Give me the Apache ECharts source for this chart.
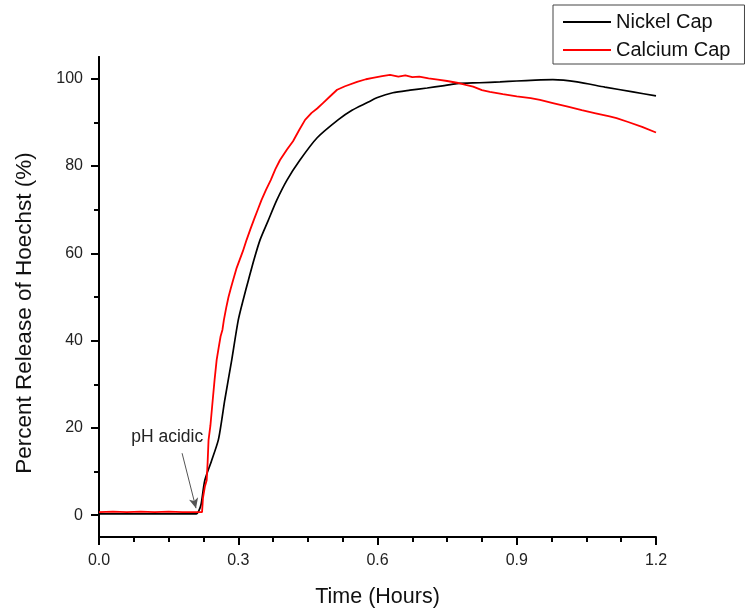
<!DOCTYPE html>
<html>
<head>
<meta charset="utf-8">
<script src="https://cdn.jsdelivr.net/npm/echarts@6/dist/echarts.min.js"></script>
<style>html,body{margin:0;padding:0;background:#fff}#c{width:750px;height:615px}</style>
</head>
<body>
<div id="c"></div>
<script>
var nickelTime = [0,0.05,0.10,0.15,0.20,0.21,0.215,0.22,0.228,0.242,0.257,0.264,0.271,0.286,0.300,0.311,0.322,0.334,0.347,0.364,0.383,0.405,0.433,0.47,0.515,0.545,0.577,0.60,0.633,0.67,0.707,0.74,0.771,0.82,0.864,0.90,0.94,0.978,1.03,1.09,1.15,1.20];
var nickelValue = [0.3,0.3,0.3,0.3,0.3,0.3,1,2.5,8,12.3,17.2,21.5,26.4,35.6,44.7,49.5,53.9,58.6,63.1,67.4,72.2,76.8,81.4,86.5,90.6,92.8,94.5,95.7,96.8,97.4,97.9,98.4,98.9,99.1,99.3,99.5,99.7,99.8,99.3,98.1,97.0,96.1];
var calciumTime = [0,0.03,0.06,0.09,0.12,0.15,0.18,0.20,0.222,0.224,0.228,0.232,0.234,0.236,0.240,0.245,0.249,0.2535,0.258,0.262,0.266,0.269,0.274,0.279,0.284,0.289,0.296,0.303,0.31,0.318,0.326,0.334,0.342,0.350,0.36,0.37,0.38,0.39,0.405,0.418,0.431,0.444,0.458,0.47,0.483,0.498,0.513,0.53,0.556,0.575,0.59,0.61,0.627,0.645,0.66,0.675,0.69,0.71,0.73,0.75,0.771,0.79,0.806,0.825,0.842,0.87,0.90,0.93,0.95,0.98,1.01,1.04,1.07,1.10,1.115,1.14,1.17,1.20];
var calciumValue = [0.7,0.8,0.7,0.8,0.7,0.8,0.7,0.7,0.7,4,6.5,8,12,17.2,20.5,26.4,31,35.6,38.5,41,42.5,44.7,47.5,50,52,53.9,56.5,58.5,60.5,63.1,65.5,67.8,70,72.2,74.6,76.8,79.3,81.4,83.8,85.7,88.2,90.6,92.2,93.2,94.5,96,97.5,98.3,99.3,99.9,100.2,100.6,100.9,100.5,100.8,100.4,100.5,100.1,99.8,99.5,99.1,98.6,98.2,97.4,97,96.5,96,95.6,95.2,94.4,93.6,92.8,92.1,91.4,91,90.1,89,87.7];
var yMajorTicks = [0,20,40,60,80,100];
var yMinorTicks = [10,30,50,70,90];
var seriesNames = ['Nickel Cap','Calcium Cap'];
var annotationText = 'pH acidic';
var annotationTextAt = [0.147, 17.9];
var arrowFrom = [0.179, 14.2];
var arrowTo = [0.209, 1.6];

function zip(a,b){return a.map(function(v,i){return [v,b[i]];});}
var font = 'Liberation Sans, Arial, sans-serif';
var chart = echarts.init(document.getElementById('c'));
var yBase = {type:'value',min:-5,max:105,position:'left',splitLine:{show:false},
  axisLine:{show:true,onZero:false,lineStyle:{color:'#000',width:2}}};
chart.setOption({
  animation:false,
  backgroundColor:'#fff',
  grid:{left:99,right:94,top:57,bottom:78},
  legend:{
    data:seriesNames, orient:'vertical', left:553, top:5, icon:'rect',
    padding:[7,14,4,10], itemGap:8, itemWidth:48, itemHeight:2, itemTextGap:6,
    borderColor:'#444', borderWidth:1,
    textStyle:{fontFamily:font,fontSize:20,color:'#111'}
  },
  xAxis:{
    type:'value',min:0,max:1.2,interval:0.3,
    name:'Time (Hours)',nameLocation:'middle',nameGap:49,
    nameTextStyle:{fontFamily:font,fontSize:21.5,color:'#111'},
    axisLine:{show:true,onZero:false,lineStyle:{color:'#000',width:2}},
    axisTick:{show:true,length:8,lineStyle:{color:'#000',width:2}},
    minorTick:{show:true,splitNumber:4,length:5,lineStyle:{color:'#000',width:2}},
    axisLabel:{margin:16,fontFamily:font,fontSize:16,color:'#222',formatter:function(v){return v.toFixed(1);}},
    splitLine:{show:false}
  },
  yAxis:[
    Object.assign({},yBase,{
      name:'Percent Release of Hoechst (%)',nameLocation:'middle',nameGap:63,
      nameTextStyle:{fontFamily:font,fontSize:22.5,color:'#111',padding:[0,32,0,0]},
      axisTick:{show:true,length:8,customValues:yMajorTicks,lineStyle:{color:'#000',width:2}},
      axisLabel:{margin:16,customValues:yMajorTicks,fontFamily:font,fontSize:16,color:'#222'}
    }),
    Object.assign({},yBase,{
      axisTick:{show:true,length:5,customValues:yMinorTicks,lineStyle:{color:'#000',width:2}},
      axisLabel:{show:false}
    })
  ],
  series:[
    {name:seriesNames[0],type:'line',data:zip(nickelTime,nickelValue),showSymbol:false,symbol:'none',
     smooth:0.25,
     lineStyle:{color:'#000',width:1.7},itemStyle:{color:'#000'},
     markLine:{silent:true,symbol:['none','arrow'],symbolSize:[7,10],
       lineStyle:{color:'#555',width:1,type:'solid'},label:{show:false},
       data:[[{coord:arrowFrom},{coord:arrowTo}]]},
     markPoint:{silent:true,symbol:'circle',symbolSize:1,itemStyle:{color:'rgba(0,0,0,0)'},
       label:{show:true,position:'inside',formatter:annotationText,fontFamily:font,fontSize:17.5,color:'#222'},
       data:[{coord:annotationTextAt}]}
    },
    {name:seriesNames[1],type:'line',data:zip(calciumTime,calciumValue),showSymbol:false,symbol:'none',
     lineStyle:{color:'#f00',width:1.8},itemStyle:{color:'#f00'}}
  ]
});
</script>
</body>
</html>
